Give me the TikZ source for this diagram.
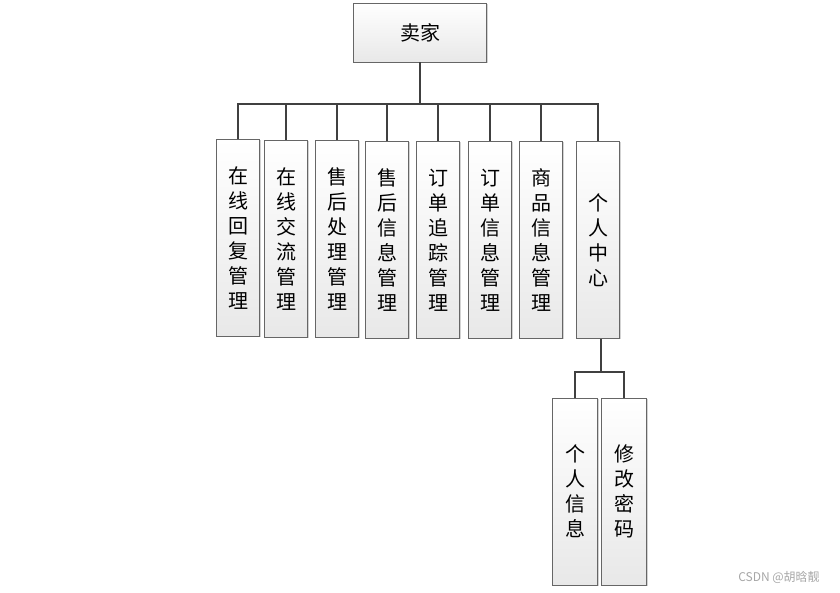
\documentclass[tikz,border=0pt]{standalone}
\usepackage{fontspec}
\newfontfamily\cjk{Noto Sans CJK SC}
\usetikzlibrary{shadows}

\tikzset{
  mbox/.style={draw=black!60,line width=0.8pt,top color=white,bottom color=black!9,
    drop shadow={shadow xshift=1pt,shadow yshift=-1pt,opacity=0.35},
    font=\cjk\fontsize{20}{25}\selectfont,align=center,inner sep=0pt},
  col/.style={mbox,minimum width=43pt,minimum height=197pt},
  sub/.style={mbox,minimum width=45pt,minimum height=187pt},
  link/.style={draw=black!75,line width=1.1pt}
}

\begin{document}
\begin{tikzpicture}[x=1pt,y=1pt]
        \useasboundingbox (0,0) rectangle (840,593);
        \node[mbox,minimum width=133pt,minimum height=59pt] (top) at (420,560.5) {卖家};
        \node[col] (c1) at (238,355) {在\\线\\回\\复\\管\\理};
        \node[col] (c2) at (286,354) {在\\线\\交\\流\\管\\理};
        \node[col] (c3) at (337,354) {售\\后\\处\\理\\管\\理};
        \node[col] (c4) at (387,353) {售\\后\\信\\息\\管\\理};
        \node[col] (c5) at (438,353) {订\\单\\追\\踪\\管\\理};
        \node[col] (c6) at (490,353) {订\\单\\信\\息\\管\\理};
        \node[col] (c7) at (541,353) {商\\品\\信\\息\\管\\理};
        \node[col] (c8) at (598,353) {个\\人\\中\\心};
        \node[sub] (s1) at (575,101.5) {个\\人\\信\\息};
        \node[sub] (s2) at (624,101.5) {修\\改\\密\\码};
        \coordinate (bus) at (420,489);
        \coordinate (subbus) at (601,221);
        \draw[link] (top.south) -- (bus);
        \foreach \i in {1,...,8}
          \draw[link] (c\i.north) -- (c\i.north |- bus) -- (bus);
        \draw[link] (c8.south -| subbus) -- (subbus);
        \draw[link] (s1.north) -- (s1.north |- subbus) -- (subbus);
        \draw[link] (s2.north) -- (s2.north |- subbus) -- (subbus);
        \node[text=black!35,font=\cjk\fontsize{12}{14}\selectfont] (mark) at (779,16) {CSDN @胡晗靓};
\end{tikzpicture}
\end{document}
